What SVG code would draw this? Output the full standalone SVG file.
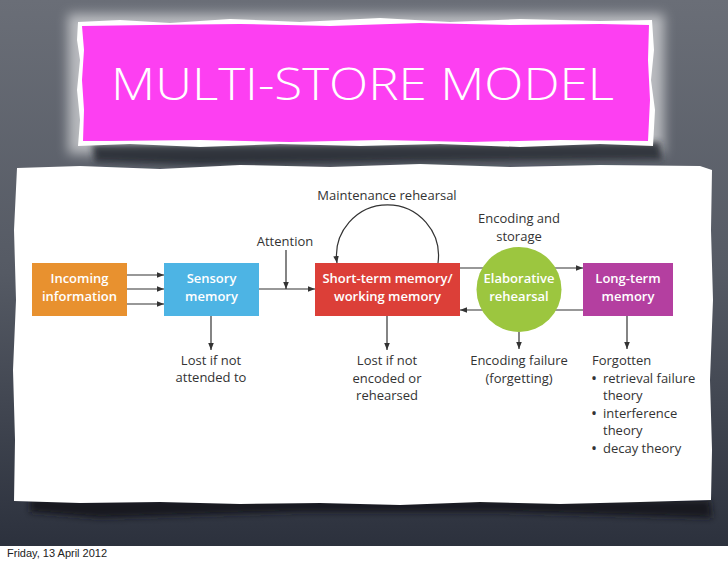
<svg xmlns="http://www.w3.org/2000/svg" width="728" height="564" viewBox="0 0 728 564">
<defs>
<linearGradient id="bg" x1="0" y1="0" x2="0" y2="1">
<stop offset="0" stop-color="#6a6e77"/>
<stop offset="0.5" stop-color="#555a64"/>
<stop offset="1" stop-color="#2c313d"/>
</linearGradient>
<filter id="blur6" x="-20%" y="-50%" width="140%" height="200%"><feGaussianBlur stdDeviation="6"/></filter>
<filter id="blur3" x="-20%" y="-50%" width="140%" height="200%"><feGaussianBlur stdDeviation="3"/></filter>
<marker id="ah" viewBox="0 0 10 10" refX="10" refY="5" markerWidth="7" markerHeight="7" markerUnits="userSpaceOnUse" orient="auto">
<path d="M0,1 L10,5 L0,9 Z" fill="#333"/>
</marker>
<style>
.conn{stroke:#333;stroke-width:1.2;fill:none}
.lbl{font-family:"Open Sans","Liberation Sans",sans-serif;font-size:13px;fill:#333}
.bul{font-family:"Open Sans","Liberation Sans",sans-serif;font-size:16px;fill:#333}
.btxt{font-family:"Open Sans","Liberation Sans",sans-serif;font-size:13px;font-weight:600;fill:#fff;text-anchor:middle}
.mid{text-anchor:middle}
</style>
</defs>
<rect x="0" y="0" width="728" height="546" fill="url(#bg)"/>
<rect x="0" y="546" width="728" height="18" fill="#fff"/>
<text x="7" y="557" font-family="Liberation Sans, Arial, sans-serif" font-size="11" fill="#222">Friday, 13 April 2012</text>

<g id="banner">
<rect x="68" y="14" width="596" height="140" fill="#ffffff" opacity="0.55" filter="url(#blur6)"/>
<path d="M92,145 L660,142 L662,160 L420,162 L200,165 L95,162 Z" fill="#24272d" opacity="0.85" filter="url(#blur3)"/>
<path d="M78,22 L120,20 L170,23 L230,19 L300,22 L380,18 L450,22 L520,19 L600,21 L652,20 L654,50 L651,80 L655,110 L653,146 L600,144 L520,147 L440,144 L360,146 L280,144 L200,147 L130,144 L78,146 L80,120 L77,90 L80,60 L77,40 Z" fill="#ffffff"/>
<path d="M82,26 L150,25 L240,24 L330,26 L420,23 L510,25 L600,24 L649,25 L648,60 L650,100 L648,141 L560,140 L470,142 L380,140 L290,142 L200,140 L110,141 L83,141 L84,110 L82,80 L84,50 Z" fill="#fd3ff2"/>
<text x="111" y="100" font-family="Open Sans, Liberation Sans, sans-serif" font-size="45" font-weight="300" fill="#fff" textLength="503" lengthAdjust="spacingAndGlyphs">MULTI-STORE MODEL</text>
</g>

<g id="paper">
<path d="M30,498 L710,500 L712,518 L500,512 L300,512 L100,518 L30,512 Z" fill="#15181f" opacity="0.9" filter="url(#blur3)"/>
<path d="M17,168 L80,166 L160,169 L240,165 L330,167 L420,164 L510,167 L600,165 L700,166 L712,170 L711,230 L713,300 L710,380 L712,450 L711,500 L640,502 L560,504 L480,502 L400,505 L320,503 L240,504 L160,502 L80,503 L14,501 L15,440 L13,370 L16,300 L14,230 Z" fill="#ffffff"/>
</g>

<g id="connectors">
<line class="conn" x1="127" y1="275" x2="164" y2="275" marker-end="url(#ah)"/>
<line class="conn" x1="127" y1="289" x2="164" y2="289" marker-end="url(#ah)"/>
<line class="conn" x1="127" y1="304" x2="164" y2="304" marker-end="url(#ah)"/>
<line class="conn" x1="259" y1="289" x2="315" y2="289" marker-end="url(#ah)"/>
<line class="conn" x1="286" y1="250" x2="286" y2="289" marker-end="url(#ah)"/>
<line class="conn" x1="211" y1="316" x2="211" y2="350" marker-end="url(#ah)"/>
<line class="conn" x1="387" y1="316" x2="387" y2="350" marker-end="url(#ah)"/>
<path class="conn" d="M438,263 A51,51 0 1 0 337,263" marker-end="url(#ah)"/>
<line class="conn" x1="460" y1="268" x2="583" y2="268" marker-end="url(#ah)"/>
<line class="conn" x1="583" y1="310" x2="460" y2="310" marker-end="url(#ah)"/>
<line class="conn" x1="519" y1="332" x2="519" y2="349" marker-end="url(#ah)"/>
<line class="conn" x1="627" y1="316" x2="627" y2="349" marker-end="url(#ah)"/>
</g>

<g id="incoming">
<rect x="32" y="263" width="95" height="53" fill="#e8912f"/>
<text class="btxt" x="79.5" y="283">Incoming</text>
<text class="btxt" x="79.5" y="301">information</text>
</g>
<g id="sensory">
<rect x="164" y="263" width="95" height="53" fill="#4db4e4"/>
<text class="btxt" x="211.5" y="283">Sensory</text>
<text class="btxt" x="211.5" y="301">memory</text>
</g>
<g id="stm">
<rect x="315" y="263" width="145" height="53" fill="#dc3f38"/>
<text class="btxt" x="387.5" y="283">Short-term memory/</text>
<text class="btxt" x="387.5" y="301">working memory</text>
</g>
<g id="elaborative">
<circle cx="519" cy="289.5" r="42.5" fill="#9cc63f"/>
<text class="btxt" x="519" y="283">Elaborative</text>
<text class="btxt" x="519" y="301">rehearsal</text>
</g>
<g id="ltm">
<rect x="583" y="263" width="90" height="53" fill="#b43fa0"/>
<text class="btxt" x="628" y="283">Long-term</text>
<text class="btxt" x="628" y="301">memory</text>
</g>

<g id="labels">
<text class="lbl mid" x="285" y="246">Attention</text>
<text class="lbl mid" x="387" y="200">Maintenance rehearsal</text>
<text class="lbl mid" x="519" y="223">Encoding and</text>
<text class="lbl mid" x="519" y="241">storage</text>
<text class="lbl mid" x="211" y="365">Lost if not</text>
<text class="lbl mid" x="211" y="382">attended to</text>
<text class="lbl mid" x="387" y="365">Lost if not</text>
<text class="lbl mid" x="387" y="383">encoded or</text>
<text class="lbl mid" x="387" y="400">rehearsed</text>
<text class="lbl mid" x="519" y="365">Encoding failure</text>
<text class="lbl mid" x="519" y="383">(forgetting)</text>
<text class="lbl" x="592" y="365">Forgotten</text>
<text class="bul" x="591" y="384">•</text><text class="lbl" x="603" y="383">retrieval failure</text>
<text class="lbl" x="603" y="400">theory</text>
<text class="bul" x="591" y="419">•</text><text class="lbl" x="603" y="418">interference</text>
<text class="lbl" x="603" y="435">theory</text>
<text class="bul" x="591" y="454">•</text><text class="lbl" x="603" y="453">decay theory</text>
</g>
</svg>
